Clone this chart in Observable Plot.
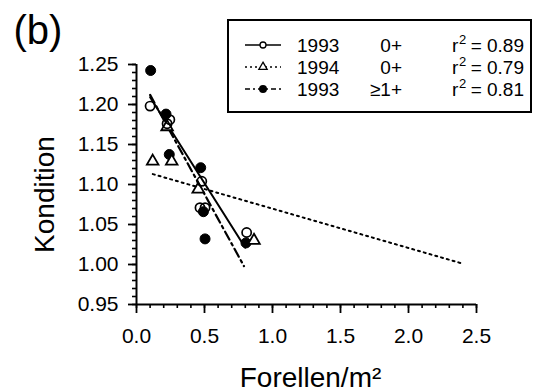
<!DOCTYPE html>
<html>
<head>
<meta charset="utf-8">
<script src="https://cdn.jsdelivr.net/npm/d3@7"></script>
<script src="https://cdn.jsdelivr.net/npm/@observablehq/plot@0.6"></script>
<style>
  html, body { margin: 0; padding: 0; background: #fff; }
  #wrap { position: relative; width: 538px; height: 392px; }
  #legend { position: absolute; left: 227px; top: 19px; }
</style>
</head>
<body>
<div id="wrap"></div>
<script>
// ---- data ----
const open93x = [0.100, 0.225, 0.245, 0.480, 0.467, 0.504, 0.810];
const open93y = [1.198, 1.176, 1.181, 1.104, 1.071, 1.071, 1.040];
const tri94x  = [0.119, 0.259, 0.225, 0.454, 0.864];
const tri94y  = [1.129, 1.129, 1.172, 1.094, 1.030];
const fill93x = [0.104, 0.217, 0.241, 0.472, 0.492, 0.504, 0.805];
const fill93y = [1.2425, 1.188, 1.1375, 1.121, 1.066, 1.032, 1.027];

// regression lines (endpoints)
const fitOpen93x = [0.10, 0.80];
const fitOpen93y = [1.209, 1.021];
const fitTri94x  = [0.12, 2.40];
const fitTri94y  = [1.113, 1.001];
const fitFill93x = [0.10, 0.79];
const fitFill93y = [1.212, 0.998];

const xMajor = [0, 0.5, 1.0, 1.5, 2.0, 2.5];
const yMajor = [0.95, 1.00, 1.05, 1.10, 1.15, 1.20, 1.25];
const xMinor = d3.range(0, 26).map(i => i / 10);
const yMinor = d3.range(95, 126).map(i => i / 100);

const legendLabels = ["1993", "1994", "1993"];
const legendAges = ["0+", "0+", "\u22651+"];
const legendR2 = ["0.89", "0.79", "0.81"];

const panelLabel = "(b)";
const xTitle = "Forellen/m\u00B2";
const yTitle = "Kondition";

// ---- build tables ----
const pts = (xs, ys) => xs.map((x, i) => ({x, y: ys[i]}));
const openPts = pts(open93x, open93y);
const triPts = pts(tri94x, tri94y);
const fillPts = pts(fill93x, fill93y);
const fitOpen = pts(fitOpen93x, fitOpen93y);
const fitTri = pts(fitTri94x, fitTri94y);
const fitFill = pts(fitFill93x, fitFill93y);

const FONT = "'Liberation Sans', Arial, Helvetica, sans-serif";

const chart = Plot.plot({
  width: 538,
  height: 392,
  marginLeft: 136,
  marginRight: 62,
  marginTop: 64,
  marginBottom: 88,
  style: {fontFamily: FONT, fontSize: "21px", color: "#000", background: "#fff"},
  x: {domain: [0, 2.5]},
  y: {domain: [0.95, 1.25]},
  marks: [
    // axes
    Plot.axisX({ticks: xMinor, tickSize: 4, text: null, label: null, strokeWidth: 1.6}),
    Plot.axisX({ticks: xMajor, tickSize: 9, tickPadding: 15, tickFormat: d3.format(".1f"), label: null, strokeWidth: 1.8, fontSize: 21}),
    Plot.axisY({ticks: yMinor, tickSize: 4, text: null, label: null, strokeWidth: 1.6}),
    Plot.axisY({ticks: yMajor, tickSize: 8, tickPadding: 10, tickFormat: d3.format(".2f"), label: null, strokeWidth: 1.8, fontSize: 21}),
    Plot.ruleY([0.95], {strokeWidth: 2}),
    Plot.ruleX([0], {strokeWidth: 2}),
    // regression lines
    Plot.line(fitTri, {x: "x", y: "y", stroke: "#000", strokeWidth: 2, strokeDasharray: "2,4"}),
    Plot.line(fitFill, {x: "x", y: "y", stroke: "#000", strokeWidth: 2.2, strokeDasharray: "9,4,2.5,4"}),
    Plot.line(fitOpen, {x: "x", y: "y", stroke: "#000", strokeWidth: 2}),
    // points
    Plot.dot(fillPts, {x: "x", y: "y", r: 5, fill: "#000", stroke: "#000", strokeWidth: 1}),
    Plot.dot(triPts, {x: "x", y: "y", r: 4.3, symbol: "triangle", fill: "#fff", stroke: "#000", strokeWidth: 1.8}),
    Plot.dot(openPts, {x: "x", y: "y", r: 4.6, fill: "none", stroke: "#000", strokeWidth: 1.7}),
    // titles
    Plot.text([yTitle], {frameAnchor: "left", rotate: -90, text: d => d, textAnchor: "middle", lineAnchor: "bottom", dx: -83, dy: 10, fontSize: 28, fill: "#000"}),
    Plot.text([xTitle], {frameAnchor: "bottom", text: d => d, textAnchor: "middle", lineAnchor: "bottom", dx: 4, dy: 82, fontSize: 28, fill: "#000"}),
    Plot.text([panelLabel], {frameAnchor: "top-left", text: d => d, textAnchor: "start", lineAnchor: "bottom", dx: -123, dy: -21, fontSize: 40, fill: "#000"})
  ]
});
document.getElementById("wrap").appendChild(chart);

// ---- legend (overlay box) ----
const lw = 306, lh = 94;
const leg = d3.select("#wrap").append("svg")
  .attr("id", "legend")
  .attr("width", lw).attr("height", lh)
  .style("font-family", FONT);
leg.append("rect").attr("x", 1).attr("y", 1).attr("width", 303).attr("height", 92)
  .attr("fill", "#fff").attr("stroke", "#000").attr("stroke-width", 2);
const dashes = [null, "2,3", "5,3,2,3"];
const rowY = [26, 48, 70];
const FS = 19;
legendLabels.forEach((lab, i) => {
  const cy = rowY[i];
  leg.append("line").attr("x1", 18).attr("x2", 54).attr("y1", cy).attr("y2", cy)
    .attr("stroke", "#000").attr("stroke-width", 1.6)
    .attr("stroke-dasharray", dashes[i]);
  if (i === 0) {
    leg.append("circle").attr("cx", 36).attr("cy", cy).attr("r", 3).attr("fill", "#fff").attr("stroke", "#000").attr("stroke-width", 1.3);
  } else if (i === 1) {
    leg.append("path").attr("d", d3.symbol(d3.symbolTriangle, 30)()).attr("transform", `translate(36,${cy})`)
      .attr("fill", "#fff").attr("stroke", "#000").attr("stroke-width", 1.3);
  } else {
    leg.append("circle").attr("cx", 36).attr("cy", cy).attr("r", 4).attr("fill", "#000");
  }
  leg.append("text").attr("x", 70).attr("y", cy + 7).attr("font-size", FS).text(lab);
  leg.append("text").attr("x", 175).attr("y", cy + 7).attr("font-size", FS).attr("text-anchor", "end").text(legendAges[i]);
  leg.append("text").attr("x", 225).attr("y", cy + 7).attr("font-size", FS).text("r");
  leg.append("text").attr("x", 232).attr("y", cy - 1).attr("font-size", 13).text("2");
  leg.append("text").attr("x", 297).attr("y", cy + 7).attr("font-size", FS).attr("text-anchor", "end").text("= " + legendR2[i]);
});
</script>
</body>
</html>
